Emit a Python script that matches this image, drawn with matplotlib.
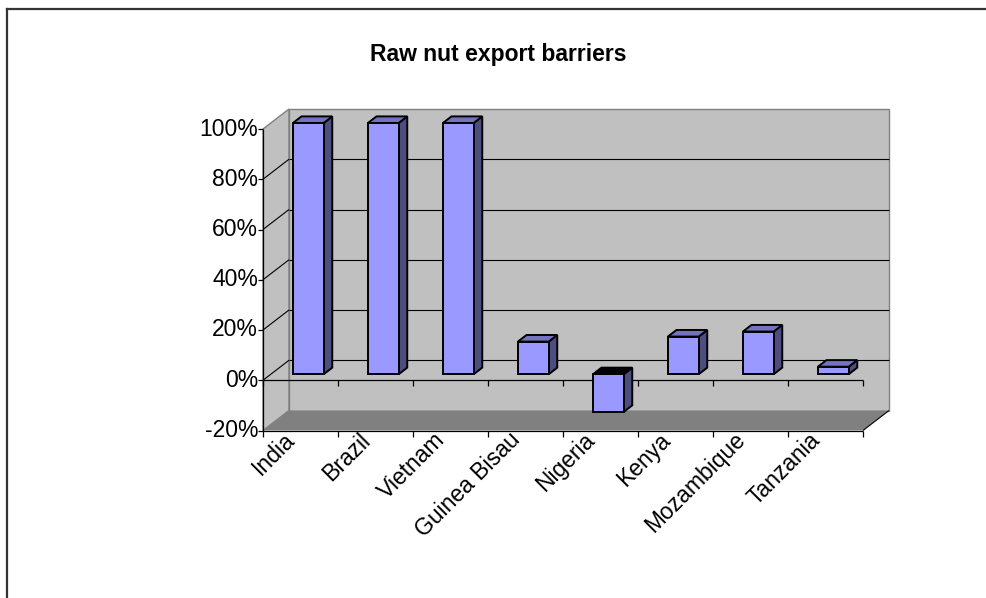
import matplotlib
matplotlib.use("Agg")
import matplotlib.pyplot as plt
from matplotlib.patches import Polygon
from matplotlib.lines import Line2D
from matplotlib.transforms import ScaledTranslation, IdentityTransform

categories = ["India", "Brazil", "Vietnam", "Guinea Bisau", "Nigeria",
              "Kenya", "Mozambique", "Tanzania"]
values = [100, 100, 100, 13, -15, 15, 17, 3]
y_ticks = [-20, 0, 20, 40, 60, 80, 100]
y_tick_labels = [f"{t}%" for t in y_ticks]
title = "Raw nut export barriers"

W, H, DPI = 987, 598, 100
FONT = "Liberation Sans"
FS = 16.5

# colours of the 3-D column faces and walls
FRONT, TOP, SIDE = "#9999FF", "#7373BF", "#4D4D80"
WALL, WALL_EDGE, FLOOR = "#C0C0C0", "#808080", "#808080"

# depth vector (pixels) from the front plane to the back wall
DEPTH = (26.0, 20.0)
BAR_FRONT, BAR_BACK = 0.30, 0.63
BAR_W = 0.41

fig = plt.figure(figsize=(W / DPI, H / DPI), dpi=DPI)
fig.patch.set_facecolor("white")

# chart-area border
fig.add_artist(Line2D([7 / W, 7 / W], [0, 1 - 9 / H], color="#333333", lw=1.6))
fig.add_artist(Line2D([7 / W, 1], [1 - 9 / H, 1 - 9 / H], color="#333333", lw=1.6))

ax = fig.add_axes([263 / W, 1 - 430.5 / H, 600 / W, 301.5 / H])
n = len(categories)
xmin, xmax = -0.5, n - 0.5
ymin, ymax = y_ticks[0], y_ticks[-1]
ax.set_xlim(xmin, xmax)
ax.set_ylim(ymin, ymax)
ax.set_axis_off()

ident = IdentityTransform()


def P(x, y, d=0.0):
    X, Y = ax.transData.transform((x, y))
    return (X + d * DEPTH[0], Y + d * DEPTH[1])


def poly(pts, fc, ec="none", lw=0.0, z=1):
    ax.add_patch(Polygon(pts, closed=True, facecolor=fc, edgecolor=ec, lw=lw,
                         transform=ident, clip_on=False, zorder=z,
                         joinstyle="miter"))


def seg(p, q, color="black", lw=0.8, z=2):
    ax.add_line(Line2D([p[0], q[0]], [p[1], q[1]], color=color, lw=lw,
                       transform=ident, clip_on=False, zorder=z,
                       solid_capstyle="butt"))


# side wall, back wall and floor
poly([P(xmin, ymax, 0), P(xmin, ymax, 1), P(xmin, ymin, 1), P(xmin, ymin, 0)],
     WALL, WALL_EDGE, 1.0, z=1)
poly([P(xmin, ymax, 1), P(xmax, ymax, 1), P(xmax, ymin, 1), P(xmin, ymin, 1)],
     WALL, WALL_EDGE, 1.0, z=1)
poly([P(xmin, ymin, 0), P(xmax, ymin, 0), P(xmax, ymin, 1), P(xmin, ymin, 1)],
     FLOOR, z=1.5)
seg(P(xmax, ymin, 0), P(xmax, ymin, 1), lw=0.8, z=2)

# gridlines on the walls
for t in y_ticks[1:-1]:
    seg(P(xmin, t, 0), P(xmin, t, 1), lw=0.8)
    seg(P(xmin, t, 1), P(xmax, t, 1), lw=0.8)

# value axis with ticks and labels
seg(P(xmin, ymin), P(xmin, ymax), lw=0.9, z=3)
for t, lab in zip(y_ticks, y_tick_labels):
    x0, y0 = P(xmin, t)
    seg((x0 - 5, y0), (x0, y0), lw=0.9, z=3)
    ax.text(x0 - 5, y0, lab, transform=ident, ha="right", va="center",
            fontsize=FS, family=FONT, clip_on=False)

# category axis on the zero line and on the floor edge
for base in (0, ymin):
    seg(P(xmin, base), P(xmax, base), lw=0.9, z=3)
    for k in range(n + 1):
        x0, y0 = P(xmin + k, base)
        seg((x0, y0), (x0, y0 - 6), lw=0.9, z=3)

# columns
front_shift = ax.transData + ScaledTranslation(
    BAR_FRONT * DEPTH[0] / DPI, BAR_FRONT * DEPTH[1] / DPI, fig.dpi_scale_trans)
for i, v in enumerate(values):
    x0, x1 = i - BAR_W / 2, i + BAR_W / 2
    top = max(v, 0)
    poly([P(x1, 0, BAR_FRONT), P(x1, v, BAR_FRONT),
          P(x1, v, BAR_BACK), P(x1, 0, BAR_BACK)],
         SIDE, "black", 1.4, z=5)
    poly([P(x0, top, BAR_FRONT), P(x1, top, BAR_FRONT),
          P(x1, top, BAR_BACK), P(x0, top, BAR_BACK)],
         TOP if v >= 0 else "black", "black", 1.4, z=5)
ax.bar(range(n), values, width=BAR_W, color=FRONT, edgecolor="black",
       linewidth=1.4, transform=front_shift, clip_on=False, zorder=6)

# category labels
lab_tf = ax.transData + ScaledTranslation(-17 / DPI, 2 / DPI, fig.dpi_scale_trans)
for i, name in enumerate(categories):
    ax.text(i, ymin, name, transform=lab_tf, rotation=45, rotation_mode="anchor",
            ha="right", va="top", fontsize=FS, family=FONT, clip_on=False)

fig.text(498 / W, 1 - 55 / H, title, ha="center", va="center",
         fontsize=FS, fontweight="bold", family=FONT)

fig.savefig("out.png", dpi=DPI)
